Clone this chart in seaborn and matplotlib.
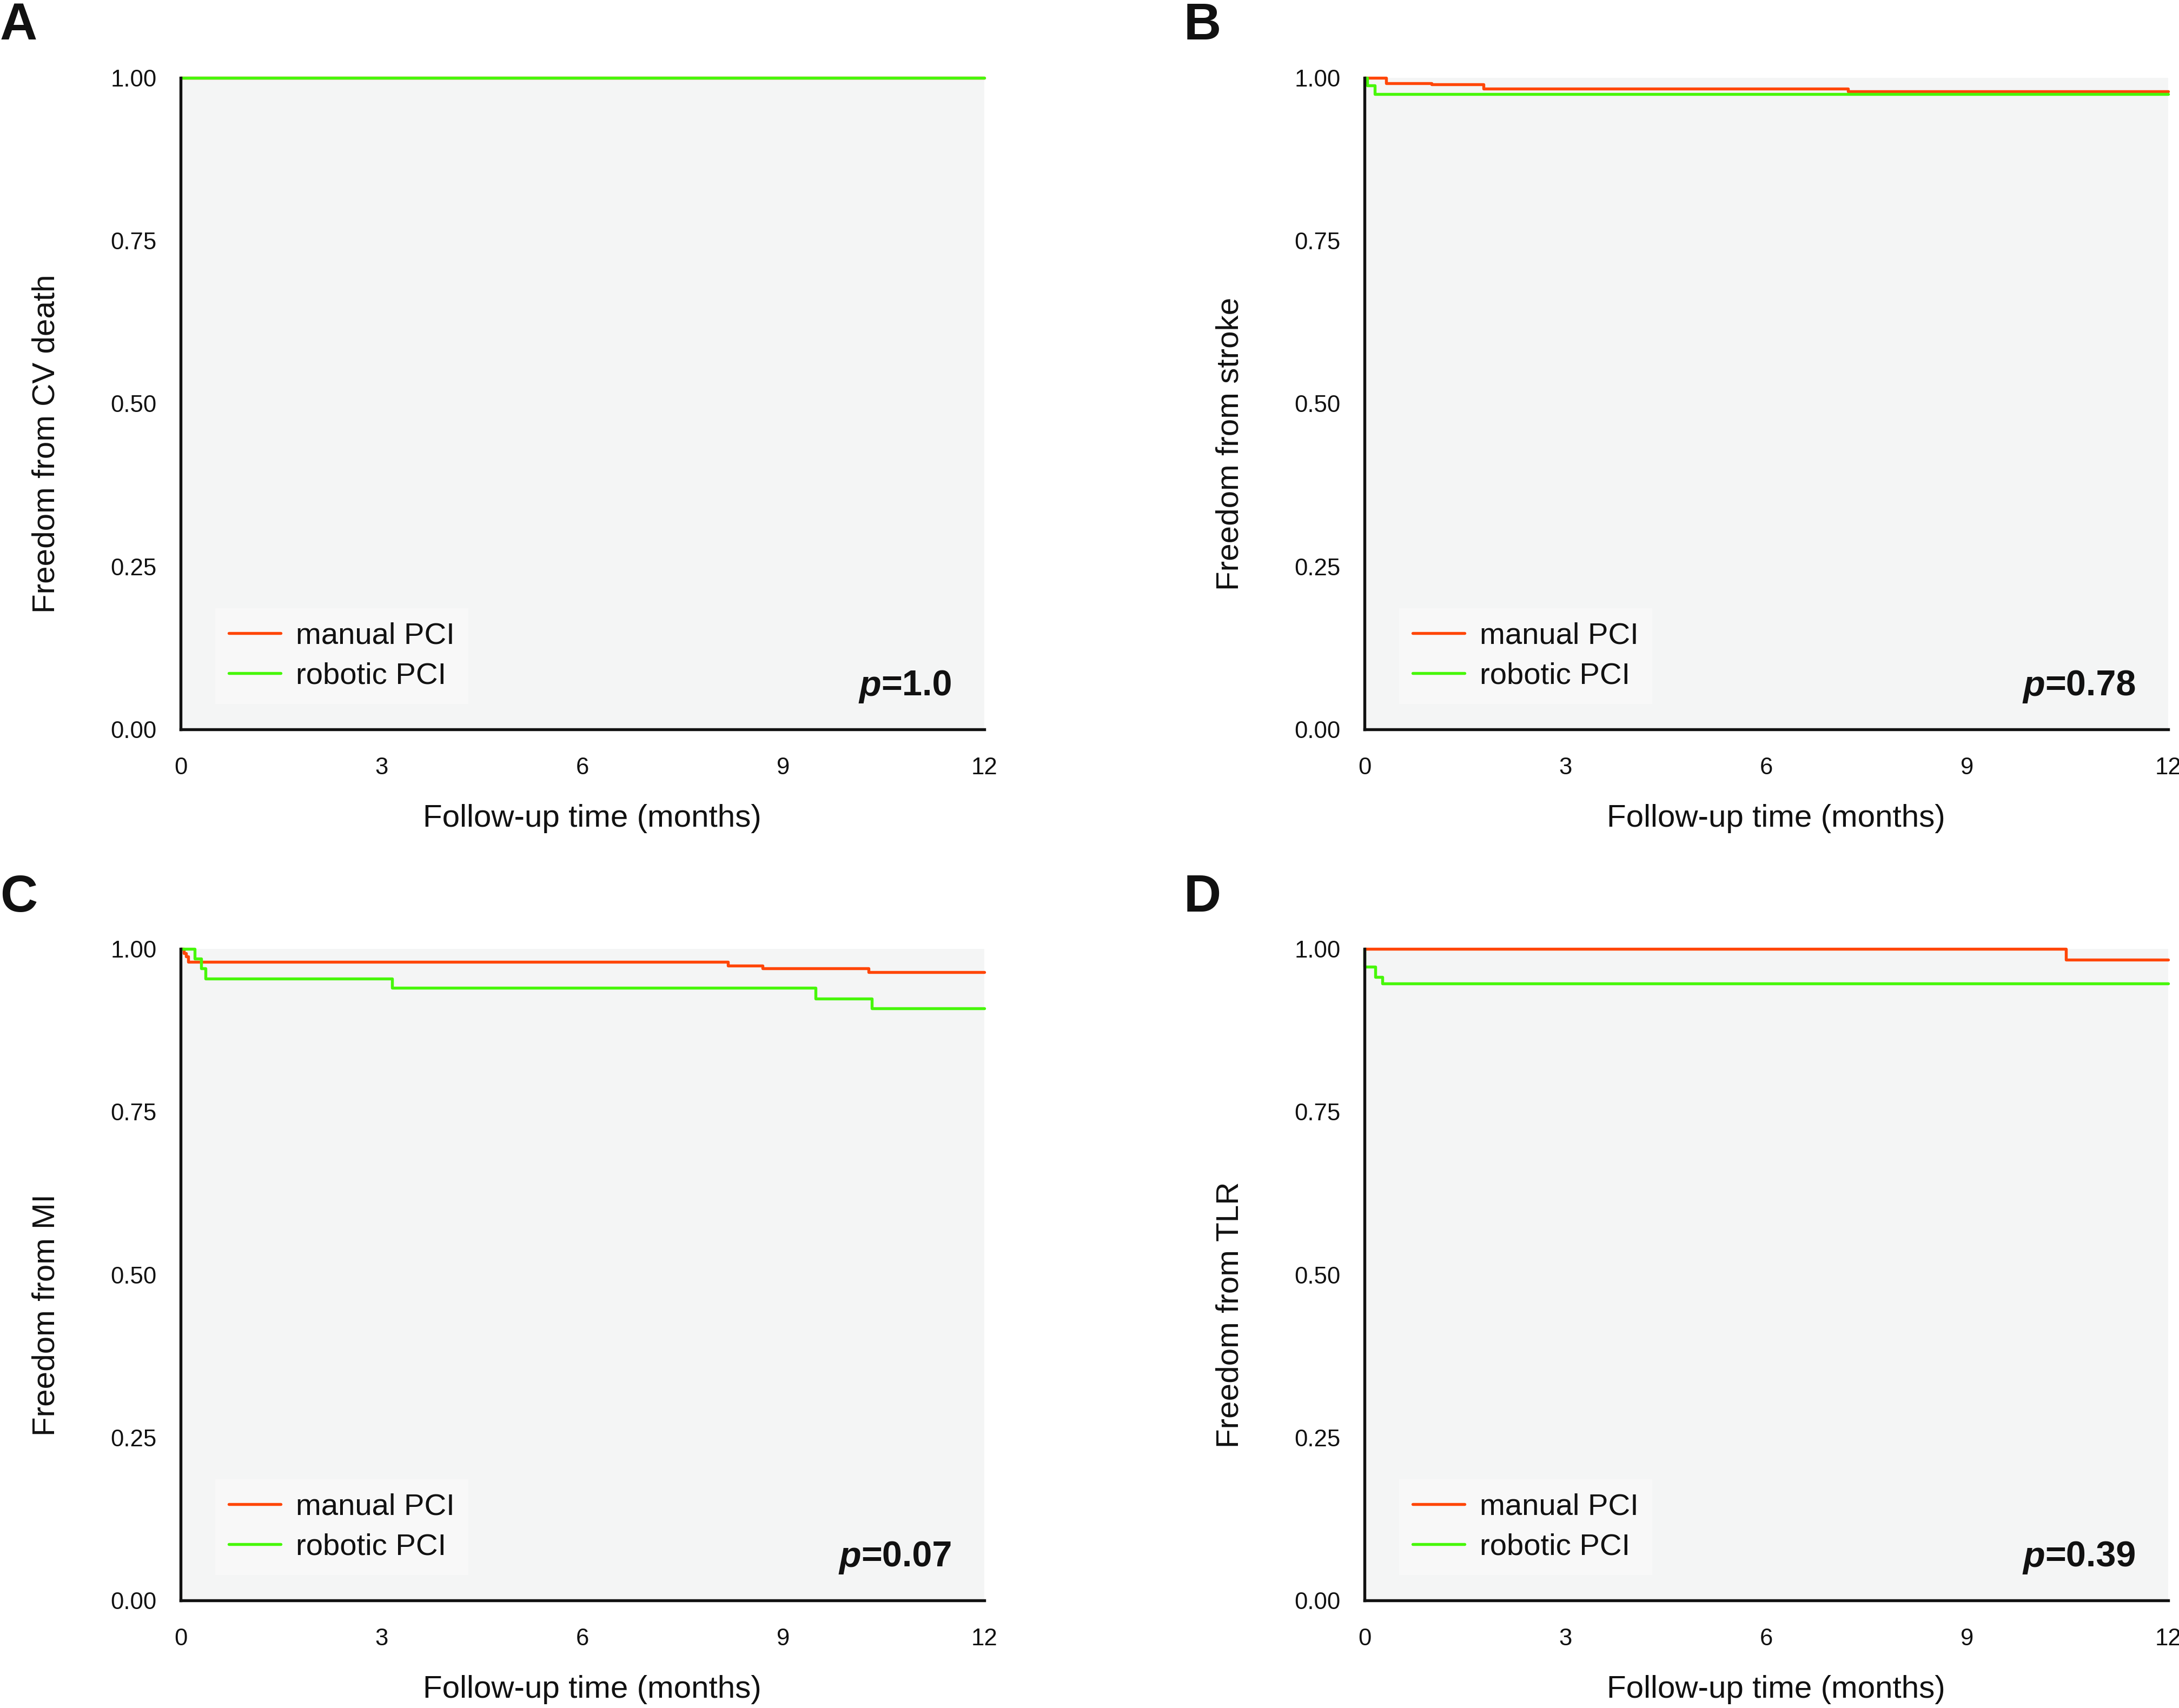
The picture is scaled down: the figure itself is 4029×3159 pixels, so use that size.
"""Kaplan-Meier style freedom-from-event curves, manual vs robotic PCI (4 panels)."""

import matplotlib.pyplot as plt
import pandas as pd
import seaborn as sns
from matplotlib.lines import Line2D
from matplotlib.offsetbox import AnchoredOffsetbox, HPacker, TextArea

GROUPS = ["manual PCI", "robotic PCI"]
COLORS = {"manual PCI": "#FF4608", "robotic PCI": "#47F70A"}

X_TICKS = [0, 3, 6, 9, 12]
Y_TICKS = [0.0, 0.25, 0.50, 0.75, 1.0]

# step points (months, freedom from event)
CV_MANUAL_T = [0, 12]
CV_MANUAL_S = [1.0, 1.0]
CV_ROBOTIC_T = [0, 12]
CV_ROBOTIC_S = [1.0, 1.0]

STROKE_MANUAL_T = [0, 0.32, 1.0, 1.78, 7.22, 12]
STROKE_MANUAL_S = [1.0, 0.992, 0.990, 0.983, 0.979, 0.979]
STROKE_ROBOTIC_T = [0, 0.04, 0.15, 12]
STROKE_ROBOTIC_S = [1.0, 0.988, 0.975, 0.975]

MI_MANUAL_T = [0, 0.05, 0.08, 0.11, 8.17, 8.69, 10.27, 12]
MI_MANUAL_S = [1.0, 0.993, 0.988, 0.980, 0.974, 0.970, 0.964, 0.964]
MI_ROBOTIC_T = [0, 0.21, 0.31, 0.37, 3.16, 9.48, 10.32, 12]
MI_ROBOTIC_S = [1.0, 0.985, 0.970, 0.954, 0.940, 0.924, 0.909, 0.909]

TLR_MANUAL_T = [0, 10.47, 12]
TLR_MANUAL_S = [1.0, 0.983, 0.983]
TLR_ROBOTIC_T = [0, 0, 0.16, 0.27, 12]
TLR_ROBOTIC_S = [1.0, 0.973, 0.957, 0.947, 0.947]

PANELS = [
    ("A", "Freedom from CV death", "1.0", (CV_MANUAL_T, CV_MANUAL_S), (CV_ROBOTIC_T, CV_ROBOTIC_S)),
    ("B", "Freedom from stroke", "0.78", (STROKE_MANUAL_T, STROKE_MANUAL_S), (STROKE_ROBOTIC_T, STROKE_ROBOTIC_S)),
    ("C", "Freedom from MI", "0.07", (MI_MANUAL_T, MI_MANUAL_S), (MI_ROBOTIC_T, MI_ROBOTIC_S)),
    ("D", "Freedom from TLR", "0.39", (TLR_MANUAL_T, TLR_MANUAL_S), (TLR_ROBOTIC_T, TLR_ROBOTIC_S)),
]

W, H = 4029, 3159
AX_LEFT = [334, 2523]
AX_TOP = [144, 1755]
AX_W, AX_H = 1486, 1205
LETTER_X = [0, 2189]
LETTER_Y = [73, 1686]

sns.set_theme(style="white")
plt.rcParams["font.family"] = ["Liberation Sans", "DejaVu Sans"]
plt.rcParams["axes.linewidth"] = 1.3


def draw_panel(fig, idx, letter, ylabel, pval, manual, robotic):
    col, row = idx % 2, idx // 2
    left = AX_LEFT[col] / W
    bottom = 1 - (AX_TOP[row] + AX_H) / H
    ax = fig.add_axes([left, bottom, AX_W / W, AX_H / H])
    ax.set_facecolor("#F4F5F5")

    frames = []
    for name, (t, s) in zip(GROUPS, [manual, robotic]):
        frames.append(pd.DataFrame({"time": t, "surv": s, "group": name}))
    df = pd.concat(frames, ignore_index=True)

    sns.lineplot(
        data=df, x="time", y="surv", hue="group", hue_order=GROUPS,
        palette=COLORS, estimator=None, sort=False, drawstyle="steps-post",
        linewidth=1.3, legend=False, clip_on=False, ax=ax,
    )

    ax.set_xlim(0, 12)
    ax.set_ylim(0, 1)
    ax.set_xticks(X_TICKS)
    ax.set_xticklabels([str(v) for v in X_TICKS])
    ax.set_yticks(Y_TICKS)
    ax.set_yticklabels([f"{v:.2f}" for v in Y_TICKS])
    ax.tick_params(axis="both", direction="out", length=6.7, width=1.0,
                   color="#111111", labelsize=10.5, labelcolor="#111111")
    ax.tick_params(axis="x", pad=5.5)
    ax.tick_params(axis="y", pad=4)
    for side in ["top", "right"]:
        ax.spines[side].set_visible(False)
    for side in ["left", "bottom"]:
        ax.spines[side].set_color("#111111")
        ax.spines[side].set_linewidth(1.3)

    ax.set_xlabel("Follow-up time (months)", fontsize=14, color="#111111",
                  labelpad=11, x=0.512)
    ax.set_ylabel(ylabel, fontsize=14, color="#111111", labelpad=22, y=0.438)

    handles = [Line2D([], [], color=COLORS[g], lw=1.3) for g in GROUPS]
    leg = ax.legend(
        handles, GROUPS, loc="lower left", bbox_to_anchor=(0.043, 0.039),
        borderaxespad=0, fontsize=13.5, frameon=True, fancybox=False,
        facecolor="#F8F8F8", edgecolor="none", framealpha=1,
        handlelength=1.7, handletextpad=0.5, borderpad=0.45, labelspacing=0.4,
    )
    for txt in leg.get_texts():
        txt.set_color("#111111")

    p_part = TextArea("p", textprops=dict(fontsize=16, fontweight="bold",
                                          fontstyle="italic", color="#111111"))
    v_part = TextArea(f"={pval}", textprops=dict(fontsize=16, fontweight="bold",
                                                 color="#111111"))
    box = HPacker(children=[p_part, v_part], align="baseline", pad=0, sep=0)
    anchored = AnchoredOffsetbox(loc="lower right", child=box, pad=0, borderpad=0,
                                 frameon=False, bbox_to_anchor=(0.960, 0.04),
                                 bbox_transform=ax.transAxes)
    ax.add_artist(anchored)

    fig.text(LETTER_X[col] / W, 1 - LETTER_Y[row] / H, letter, fontsize=23,
             fontweight="bold", color="#111111", ha="left", va="baseline")


def main():
    fig = plt.figure(figsize=(W / 300, H / 300), dpi=300)
    fig.patch.set_facecolor("white")
    for idx, (letter, ylabel, pval, manual, robotic) in enumerate(PANELS):
        draw_panel(fig, idx, letter, ylabel, pval, manual, robotic)
    fig.savefig("out.png", dpi=300, facecolor="white")
    plt.close(fig)


if __name__ == "__main__":
    main()
